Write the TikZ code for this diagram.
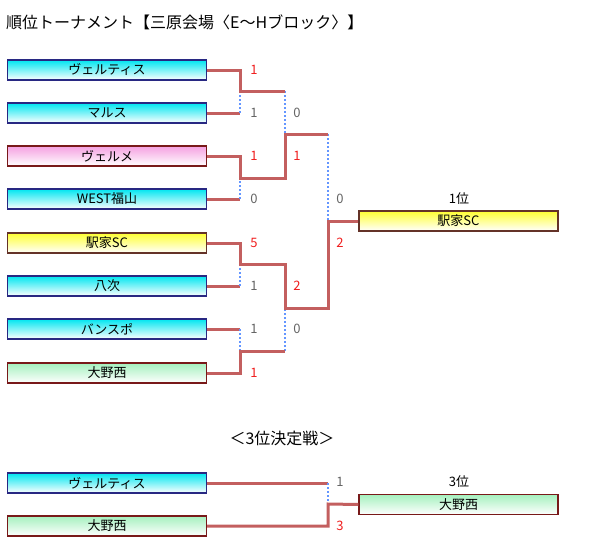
\documentclass[tikz,border=0pt]{standalone}
\usepackage{fontspec}
\setmainfont{Noto Sans CJK JP}
\usepackage{tikz}

\definecolor{cyanb}{RGB}{0,230,240}
\definecolor{pinkb}{RGB}{245,160,225}
\definecolor{yellowb}{RGB}{255,255,50}
\definecolor{greenb}{RGB}{165,240,190}
\definecolor{navyb}{RGB}{40,40,130}
\definecolor{redb}{RGB}{120,25,25}
\definecolor{brownb}{RGB}{100,50,40}
\definecolor{linered}{RGB}{195,95,95}
\definecolor{dotblue}{RGB}{100,150,255}
\definecolor{scr}{RGB}{240,30,30}
\definecolor{scg}{RGB}{100,100,100}

\begin{document}
\begin{tikzpicture}
  [x=1pt,y=-1pt,
   team/.style={draw,line width=1.2pt,minimum width=199pt,minimum height=20pt,inner sep=0pt,font=\fontsize{13}{13}\selectfont},
   blu/.style={team,draw=navyb,top color=cyanb,bottom color=white},
   pnk/.style={team,draw=redb,top color=pinkb,bottom color=white},
   yel/.style={team,draw=brownb,top color=yellowb,bottom color=white},
   grn/.style={team,draw=redb,top color=greenb,bottom color=white},
   win/.style={line width=3pt,draw=linered},
   dot/.style={line width=2pt,draw=dotblue,dash pattern=on 2pt off 2pt},
   sc/.style={inner sep=0pt,font=\fontsize{13}{13}\selectfont}]
  \useasboundingbox (0,0) rectangle (600,549);

  \node[anchor=west,inner sep=0pt,font=\fontsize{16}{16}\selectfont] (title) at (6,22) {順位トーナメント【三原会場〈E～Hブロック〉】};

  \node[blu] (t1) at (107,70)  {ヴェルティス};
  \node[blu] (t2) at (107,113) {マルス};
  \node[pnk] (t3) at (107,156) {ヴェルメ};
  \node[blu] (t4) at (107,199) {WEST福山};
  \node[yel] (t5) at (107,243) {駅家SC};
  \node[blu] (t6) at (107,286) {八次};
  \node[blu] (t7) at (107,329) {バンスポ};
  \node[grn] (t8) at (107,373) {大野西};

  \node[sc] (l1) at (459,199) {1位};
  \node[yel] (w1) at (458.5,221) {駅家SC};

  \node[inner sep=0pt,font=\fontsize{16}{16}\selectfont] (title3) at (282,438) {＜3位決定戦＞};
  \node[blu] (p1) at (107,483) {ヴェルティス};
  \node[grn] (p2) at (107,526) {大野西};
  \node[sc] (l3) at (459,482) {3位};
  \node[grn] (w3) at (458.5,504.5) {大野西};

  \coordinate (m1) at (240,91);
  \coordinate (m2) at (240,178);
  \coordinate (m3) at (240,264);
  \coordinate (m4) at (240,351);
  \coordinate (s1) at (285,134);
  \coordinate (s2) at (285,308);
  \coordinate (f)  at (328,221);
  \coordinate (q)  at (328,504);

  \foreach \t/\m in {t2/m1,t4/m2,t6/m3,t7/m4,p1/q}
  {
    \draw[win] (\t.east) -- (\t.east -| \m);
    \draw[dot] (\t.east -| \m) -- (\m);
  }
  \draw[dot] (m1 -| s1) -- (s1);
  \draw[dot] (m4 -| s2) -- (s2);
  \draw[dot] (s1 -| f) -- (f);

  \draw[win] (t1.east) -| (m1) -- (m1 -| s1);
  \draw[win] (t3.east) -| (m2) -- (m2 -| s1) -- (s1) -- (s1 -| f);
  \draw[win] (t5.east) -| (m3) -- (m3 -| s2) -- (s2) -- (s2 -| f) -- (f) -- (w1.west);
  \draw[win] (t8.east) -| (m4) -- (m4 -| s2);
  \draw[win] (p2.east) -| (q) -- (w3.west);

  \foreach \x/\y/\s/\c [count=\i] in {254/70/1/scr,254/113/1/scg,254/156/1/scr,254/199/0/scg,
      254/243/5/scr,254/286/1/scg,254/329/1/scg,254/373/1/scr,
      297/113/0/scg,297/156/1/scr,297/286/2/scr,297/329/0/scg,
      340/199/0/scg,340/243/2/scr,340/482/1/scg,340/526/3/scr}
    \node[sc,text=\c] (s\i) at (\x,\y) {\s};
\end{tikzpicture}
\end{document}
